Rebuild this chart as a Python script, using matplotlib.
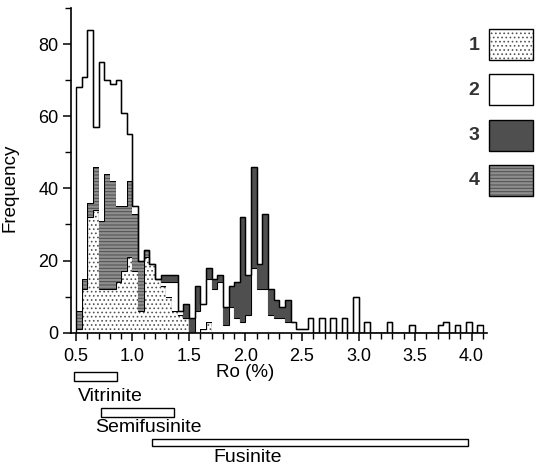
import matplotlib as mpl
mpl.use('Agg')
import matplotlib.pyplot as plt
from matplotlib.patches import Rectangle
from matplotlib.ticker import MultipleLocator
import numpy as np

plt.rcParams['font.family'] = ['Liberation Sans', 'DejaVu Sans']
plt.rcParams['hatch.linewidth'] = 0.7

# Ro histogram, 0.05 wide bins starting at 0.50
bin_lo = 0.5
bin_w = 0.05
n_bins = 72

def pad(v):
    return np.array(v + [0] * (n_bins - len(v)), dtype=float)

# counts per bin, stacked 1, 4, 2, 3 from the bottom
type1 = pad([1, 12, 32, 34, 12, 12, 12, 14, 17, 21,
             17, 6, 21, 19, 15, 13, 10, 6, 5, 4,
             0, 0, 1, 3])
type4 = pad([5, 3, 4, 12, 19, 32, 30, 21, 18, 21,
             16, 14, 2])
type2 = pad([62, 56, 48, 11, 44, 26, 27, 35, 26, 13,
             2, 0, 0, 0, 0, 1, 4, 8, 1, 0,
             0, 6, 7, 12, 12, 14, 2, 7, 4, 3,
             5, 18, 12, 12, 5, 4, 4, 3, 3, 1,
             1, 4, 0, 4, 0, 4, 0, 4, 0, 10,
             0, 3, 0, 0, 0, 3, 0, 0, 0, 2,
             0, 0, 0, 0, 2, 3, 0, 2, 0, 3,
             0, 2])
type3 = pad([0, 0, 0, 0, 0, 0, 0, 0, 0, 0,
             0, 0, 0, 0, 0, 2, 2, 2, 0, 4,
             4, 7, 0, 3, 3, 2, 5, 6, 10, 29,
             11, 28, 7, 21, 7, 5, 3, 6])

legend_ids = ['1', '2', '3', '4']

macerals = ['Vitrinite', 'Semifusinite', 'Fusinite']
ro_lo = [0.48, 0.72, 1.17]
ro_hi = [0.86, 1.37, 3.97]

# fill styles: facecolor, hatch, hatch colour
styles = {
    '1': ('white', '....', '#555555'),
    '2': ('white', None, 'black'),
    '3': ('#4f4f4f', None, '#4f4f4f'),
    '4': ('#8e8e8e', '-----', '#4e4e4e'),
}

W, H = 536, 469
fig = plt.figure(figsize=(W / 100, H / 100), dpi=100)
ax = fig.add_axes([71 / W, 1 - 332.7 / H, 416 / W, 324.7 / H])

edges = bin_lo + bin_w * np.arange(n_bins + 1)
base = np.zeros(n_bins)
for key, vals in [('1', type1), ('4', type4), ('2', type2), ('3', type3)]:
    fc, hatch, hc = styles[key]
    top = base + vals
    ax.stairs(top, edges, baseline=base, fill=True, facecolor=fc,
              hatch=hatch, edgecolor=hc, linewidth=0)
    ax.stairs(top, edges, baseline=None, color='black', linewidth=0.8)
    base = top
ax.stairs(base, edges, baseline=0, color='black', linewidth=1.0)

ax.set_xlim(0.456, 4.137)
ax.set_ylim(0, 90)
ax.spines['top'].set_visible(False)
ax.spines['right'].set_visible(False)
for s in ['left', 'bottom']:
    ax.spines[s].set_linewidth(1.2)
ax.xaxis.set_major_locator(MultipleLocator(0.5))
ax.xaxis.set_minor_locator(MultipleLocator(0.1))
ax.yaxis.set_major_locator(MultipleLocator(20))
ax.yaxis.set_minor_locator(MultipleLocator(10))
ax.set_xticks(np.arange(0.5, 4.01, 0.5))
ax.set_xticklabels(['%.1f' % v for v in np.arange(0.5, 4.01, 0.5)])
ax.tick_params(which='major', direction='out', length=6, width=1.1,
               labelsize=13)
ax.tick_params(which='minor', direction='out', length=4, width=1.0)
ax.tick_params(axis='x', which='major', pad=5)
ax.tick_params(axis='y', which='major', pad=3)

ax.set_xlabel('Ro (%)', fontsize=13.5)
ax.xaxis.set_label_coords(0.418, -0.095)
ax.set_ylabel('Frequency', fontsize=13.5)
ax.yaxis.set_label_coords(-0.125, 0.445)

# legend boxes on the right
for k, key in enumerate(legend_ids):
    top_px = 29 + 45.3 * k
    x0, y0 = 489 / W, 1 - (top_px + 31) / H
    w, h = 44 / W, 31 / H
    fc, hatch, hc = styles[key]
    fig.add_artist(Rectangle((x0, y0), w, h, transform=fig.transFigure,
                             facecolor=fc, hatch=hatch, edgecolor=hc,
                             linewidth=0))
    fig.add_artist(Rectangle((x0, y0), w, h, transform=fig.transFigure,
                             facecolor='none', edgecolor='black',
                             linewidth=1.0))
    fig.text(474 / W, 1 - (top_px + 16) / H, key, fontsize=14,
             fontweight='bold', ha='center', va='center', color='#333333')

# maceral Ro ranges under the axis
axr = fig.add_axes([71 / W, 0, 416 / W, 105 / H])
axr.set_xlim(ax.get_xlim())
axr.set_ylim(0, 105)
axr.axis('off')
bar_y = [88.3, 52.0, 23.3]
bar_h = [9.0, 9.0, 7.0]
text_x = [0.52, 1.14, 2.02]
text_y = [73, 42, 12]
text_ha = ['left', 'center', 'center']
for name, lo, hi, by, bh, tx, ty, ha in zip(macerals, ro_lo, ro_hi, bar_y,
                                            bar_h, text_x, text_y, text_ha):
    axr.add_patch(Rectangle((lo, by), hi - lo, bh, facecolor='white',
                            edgecolor='black', linewidth=1.0))
    axr.text(tx, ty, name, fontsize=14, ha=ha, va='center')

fig.savefig('out.png', dpi=100)
